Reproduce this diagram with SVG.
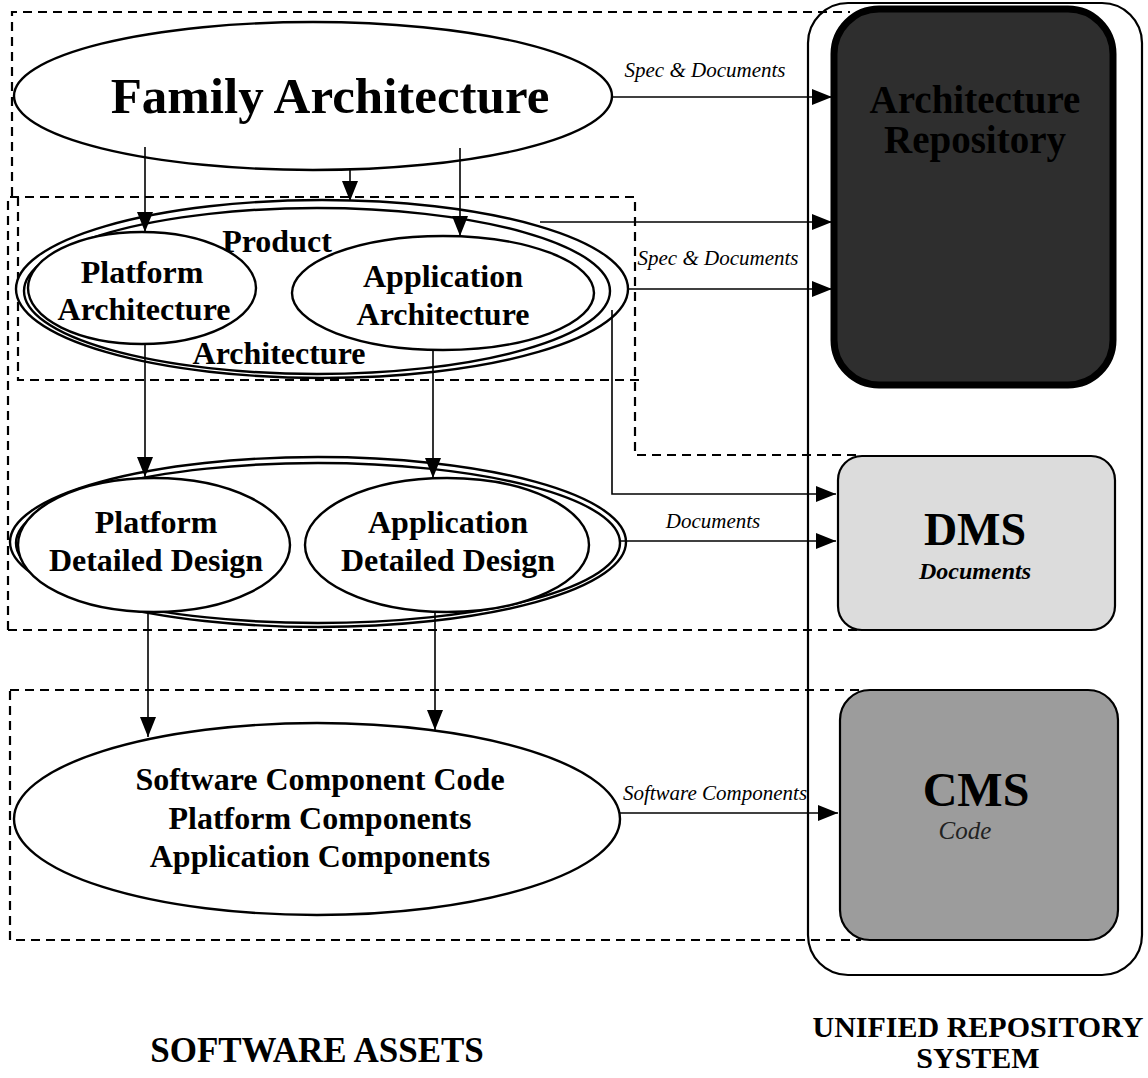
<svg xmlns="http://www.w3.org/2000/svg" width="1148" height="1078" viewBox="0 0 1148 1078">
<style>
.dash{fill:none;stroke:#000;stroke-width:2.2;stroke-dasharray:9,6}
.el{fill:#fff;stroke:#000;stroke-width:2.4}
.ln{fill:none;stroke:#000;stroke-width:1.6}
.t{font-family:"Liberation Serif","Times New Roman",serif;font-weight:bold;text-anchor:middle;fill:#000}
.n{font-size:32px}
.lab{font-family:"Liberation Serif","Times New Roman",serif;font-style:italic;font-size:21px;text-anchor:middle;fill:#000}
</style>
<defs>
<marker id="ah2" viewBox="0 0 20 16" refX="20" refY="8" markerWidth="20" markerHeight="16" markerUnits="userSpaceOnUse" orient="auto">
<path d="M0,0 L20,8 L0,16 Z" fill="#000"/>
</marker>
</defs>

<g id="regions">
<path class="dash" d="M12,196 V12 H850"/>
<path class="dash" d="M8,630 V197 H635 V455 H862"/>
<path class="dash" d="M18,197 V380 H645"/>
<path class="dash" d="M8,630 H862"/>
<rect class="dash" x="10" y="690" width="850" height="250"/>
</g>

<g id="unified-repository">
<rect x="808" y="3" width="334" height="972" rx="40" fill="none" stroke="#000" stroke-width="2.2"/>
</g>

<g id="architecture-repository">
<rect x="834" y="9" width="279" height="376" rx="45" fill="#2e2e2e" stroke="#000" stroke-width="7"/>
<text class="t" x="975" y="113" font-size="39" fill="#141414">Architecture</text>
<text class="t" x="975" y="153" font-size="39" fill="#141414">Repository</text>
</g>

<g id="dms">
<rect x="838" y="456" width="277" height="174" rx="24" fill="#dcdcdc" stroke="#000" stroke-width="2.2"/>
<text class="t" x="975" y="545" font-size="46">DMS</text>
<text class="t" x="975" y="579" font-size="24" font-style="italic">Documents</text>
</g>

<g id="cms">
<rect x="840" y="690" width="278" height="250" rx="30" fill="#9c9c9c" stroke="#000" stroke-width="2.2"/>
<text class="t" x="976" y="806" font-size="48" fill="#111">CMS</text>
<text class="t" x="965" y="839" style="font-size:25px;font-weight:normal;font-style:italic;fill:#222">Code</text>
</g>

<g id="family-architecture">
<ellipse class="el" cx="313" cy="96" rx="299" ry="74"/>
<text class="t" x="330" y="113" font-size="51">Family Architecture</text>
</g>

<g id="product-architecture">
<ellipse class="el" cx="322" cy="289" rx="306" ry="89"/>
<ellipse class="el" cx="317" cy="291" rx="293" ry="83"/>
<text class="t n" x="277" y="252">Product</text>
<text class="t n" x="279" y="364">Architecture</text>
</g>

<g id="platform-architecture">
<ellipse class="el" cx="142" cy="288" rx="114" ry="56" fill="#ececec"/>
<text class="t n" x="142" y="283">Platform</text>
<text class="t n" x="144" y="320">Architecture</text>
</g>

<g id="application-architecture">
<ellipse class="el" cx="443" cy="293" rx="151" ry="57"/>
<text class="t n" x="443" y="287">Application</text>
<text class="t n" x="443" y="325">Architecture</text>
</g>

<g id="detailed-design">
<ellipse class="el" cx="318" cy="542" rx="308" ry="85"/>
<ellipse class="el" cx="318" cy="543" rx="302" ry="80"/>
</g>

<g id="platform-detailed-design">
<ellipse class="el" cx="154" cy="545" rx="136" ry="67"/>
<text class="t n" x="156" y="533">Platform</text>
<text class="t n" x="156" y="571">Detailed Design</text>
</g>

<g id="application-detailed-design">
<ellipse class="el" cx="447" cy="545" rx="142" ry="67"/>
<text class="t n" x="448" y="533">Application</text>
<text class="t n" x="448" y="571">Detailed Design</text>
</g>

<g id="software-component-code">
<ellipse class="el" cx="317" cy="819" rx="303" ry="96"/>
<text class="t n" x="320" y="790">Software Component Code</text>
<text class="t n" x="320" y="829">Platform Components</text>
<text class="t n" x="320" y="867">Application Components</text>
</g>

<g id="connectors">
<line class="ln" x1="145" y1="147" x2="145" y2="232" marker-end="url(#ah2)"/>
<line class="ln" x1="350" y1="169" x2="350" y2="201" marker-end="url(#ah2)"/>
<line class="ln" x1="460" y1="148" x2="460" y2="236" marker-end="url(#ah2)"/>
<line class="ln" x1="145" y1="344" x2="145" y2="477" marker-end="url(#ah2)"/>
<line class="ln" x1="433" y1="350" x2="433" y2="478" marker-end="url(#ah2)"/>
<line class="ln" x1="148" y1="612" x2="148" y2="737" marker-end="url(#ah2)"/>
<line class="ln" x1="435" y1="612" x2="435" y2="730" marker-end="url(#ah2)"/>

<line class="ln" x1="612" y1="97" x2="832" y2="97" marker-end="url(#ah2)"/>
<path class="ln" d="M540,222 H832" marker-end="url(#ah2)"/>
<path class="ln" d="M628,289 H832" marker-end="url(#ah2)"/>
<path class="ln" d="M612,310 V494 H836" marker-end="url(#ah2)"/>
<path class="ln" d="M620,541 H836" marker-end="url(#ah2)"/>
<path class="ln" d="M620,813 H838" marker-end="url(#ah2)"/>

<text class="lab" x="705" y="77">Spec &amp; Documents</text>
<text class="lab" x="718" y="265">Spec &amp; Documents</text>
<text class="lab" x="713" y="528">Documents</text>
<text class="lab" x="715" y="800">Software Components</text>
</g>

<g id="captions">
<text class="t" x="317" y="1062" font-size="35">SOFTWARE ASSETS</text>
<text class="t" x="978" y="1037" font-size="30">UNIFIED REPOSITORY</text>
<text class="t" x="978" y="1068" font-size="30">SYSTEM</text>
</g>
</svg>
